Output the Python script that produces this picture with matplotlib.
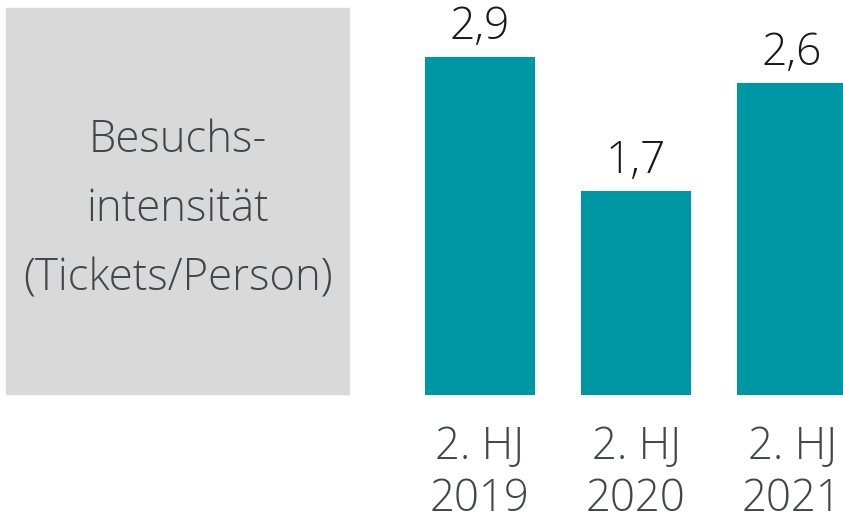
import matplotlib
matplotlib.use("Agg")
import matplotlib.pyplot as plt
from matplotlib.patches import Rectangle

# data
periods = ["2. HJ\n2019", "2. HJ\n2020", "2. HJ\n2021"]
intensity = [2.86, 1.73, 2.64]
box_label = "Besuchs-\nintensität\n(Tickets/Person)"

BAR_COLOR = "#0097A4"
BOX_COLOR = "#D9D9D9"
TEXT_GRAY = "#3F474D"

plt.rcParams["font.family"] = ["Open Sans", "DejaVu Sans"]

W, H = 843, 522
fig = plt.figure(figsize=(W / 100, H / 100), dpi=100)

# axes spans the full width; bar centres at 480, 636, 792 px (step 156)
base_px = 394.7
ax = fig.add_axes([0, 1 - base_px / H, 1, base_px / H])
step = 156
x0 = 480
ax.set_xlim(-x0 / step, (W - x0) / step)
ax.set_ylim(0, base_px / 118)

pos = list(range(len(periods)))
bars = ax.bar(pos, intensity, width=110 / step, color=BAR_COLOR)
ax.bar_label(bars, labels=[f"{v:.1f}".replace(".", ",") for v in intensity],
             padding=5, fontsize=32, color="#1A1A1A", fontweight="light")

ax.set_xticks(pos, periods)
ax.tick_params(axis="x", length=0, pad=22, labelsize=31.5, labelcolor=TEXT_GRAY)
for lbl in ax.get_xticklabels():
    lbl.set_linespacing(1.22)
    lbl.set_fontweight("light")
ax.set_yticks([])
for s in ax.spines.values():
    s.set_visible(False)
ax.patch.set_alpha(0)

# grey label box on the left
box = Rectangle((6 / W, 1 - 394 / H), (349 - 6) / W, (394 - 8) / H,
                transform=fig.transFigure, color=BOX_COLOR, zorder=0)
fig.patches.append(box)
fig.text(178 / W, 1 - 210 / H, box_label, ha="center", va="center",
         fontsize=31.5, color=TEXT_GRAY, linespacing=1.75, fontweight="light")

fig.savefig("out.png", dpi=100)
